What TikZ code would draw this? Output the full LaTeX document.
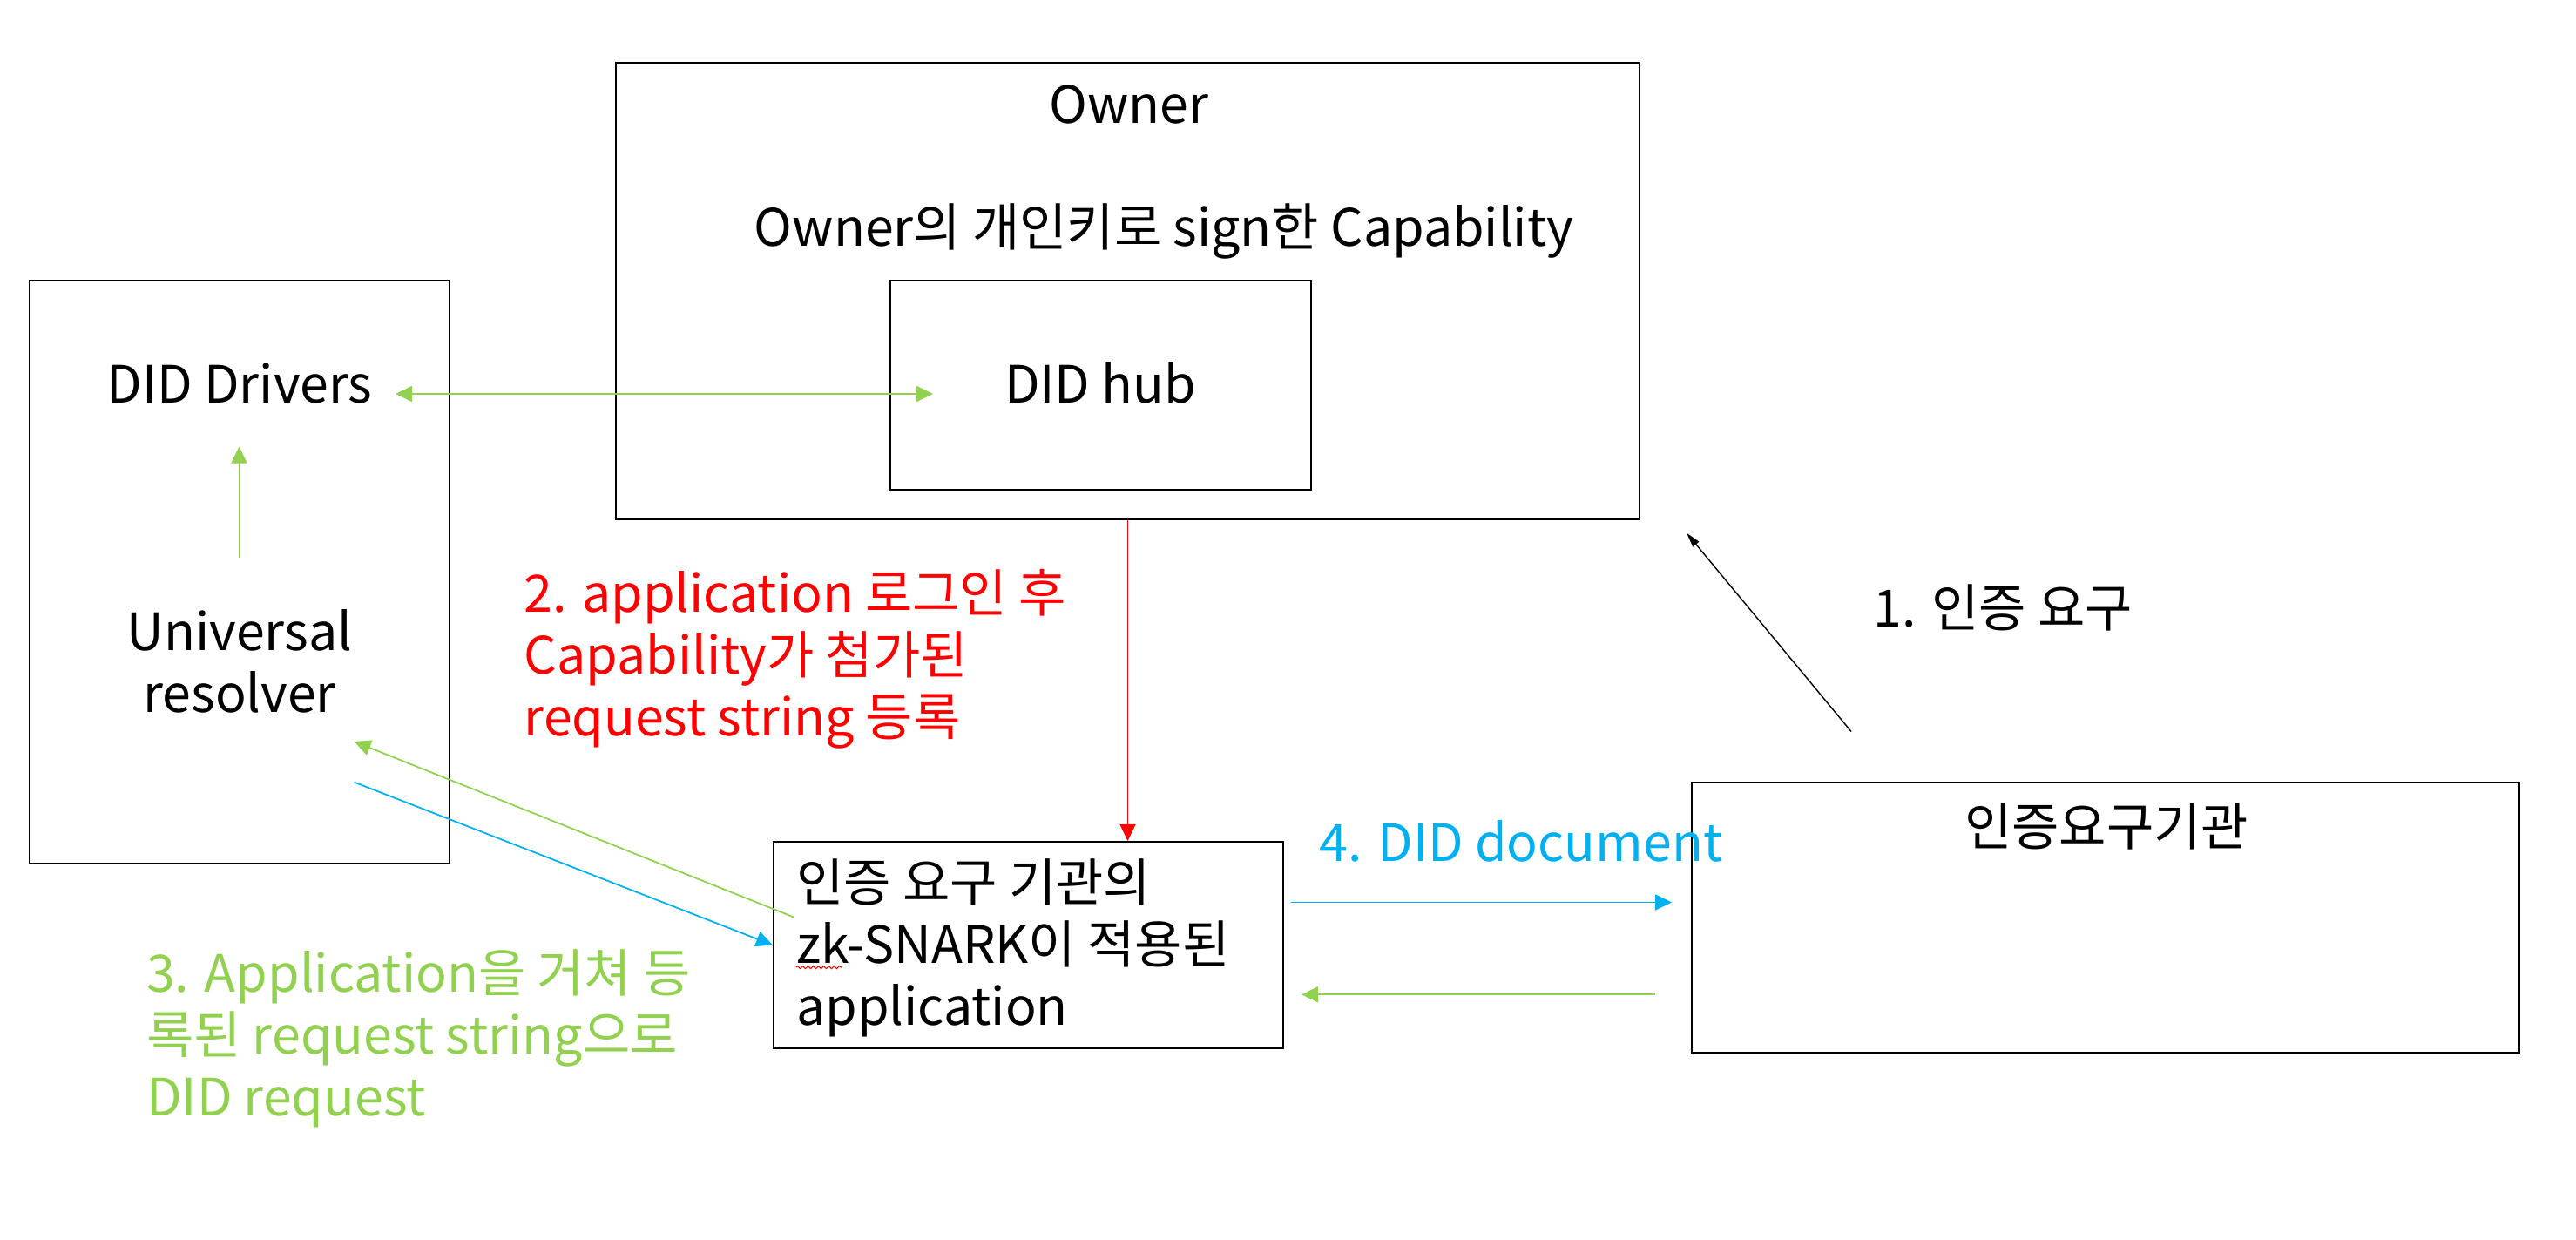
\documentclass[tikz,border=0pt]{standalone}
\usepackage{fontspec}
\setmainfont{Noto Sans CJK KR}
\usetikzlibrary{arrows.meta,decorations.pathmorphing,positioning}
\definecolor{pptgreen}{HTML}{92D050}
\definecolor{pptblue}{HTML}{00B0F0}
\definecolor{pptred}{HTML}{FF0000}
\tikzset{
	box/.style={draw,line width=0.6pt,inner sep=0pt},
	lbl/.style={inner sep=0pt,font=\fontsize{16.8pt}{20.2pt}\selectfont},
	tip/.style={-{Triangle[length=0.19cm,width=0.18cm]},line width=0.5pt},
	dtip/.style={{Triangle[length=0.19cm,width=0.18cm]}-{Triangle[length=0.19cm,width=0.18cm]},line width=0.5pt},
}

\begin{document}
\begin{tikzpicture}
	\useasboundingbox (0,0) rectangle (29.57,14.22);
	\node[box,minimum width=11.75cm,minimum height=5.24cm] (owner) at (12.945,10.88) {};
	\node[box,minimum width=4.83cm,minimum height=2.40cm] (hub) at (12.635,9.80) {};
	\node[box,minimum width=4.82cm,minimum height=6.69cm] (resbox) at (2.75,7.655) {};
	\node[box,minimum width=5.85cm,minimum height=2.37cm] (app) at (11.805,3.375) {};
	\node[box,minimum width=9.495cm,minimum height=3.10cm] (inst) at (24.1675,3.69) {};
	\node[lbl,anchor=base] (ownerlbl) at (12.96,12.80) {Owner};
	\node[lbl,anchor=base] (signlbl) at (13.36,11.39) {Owner의 개인키로 sign한 Capability};
	\node[lbl,anchor=base] (hublbl) at (12.63,9.60) {DID hub};
	\node[lbl,anchor=base] (drivers) at (2.75,9.60) {DID Drivers};
	\node[lbl,anchor=base,align=center] (resolver) at (2.75,6.05) {Universal\\resolver};
	\node[lbl,anchor=base west,align=left,text=pptred] (step2) at (6.01,5.775) {2. application 로그인 후\\Capability가 첨가된\\request string 등록};
	\node[lbl,anchor=base west,align=left,text=pptgreen] (step3) at (1.674,1.42) {3. Application을 거쳐 등\\록된 request string으로\\DID request};
	\node[lbl,anchor=base west,align=left] (applbl) at (9.136,2.46) {인증 요구 기관의\\zk-SNARK이 적용된\\application};
	\node[lbl,anchor=base west,text=pptblue] (step4) at (15.14,4.333) {4. DID document};
	\node[lbl,anchor=base] (instlbl) at (24.18,4.52) {인증요구기관};
	\node[lbl,anchor=base west] (step1) at (21.50,7.03) {1. 인증 요구};
	\coordinate (drvR) at (4.54,9.70);
	\coordinate (hubL) at (10.71,9.70);
	\coordinate (resB) at (2.745,7.82);
	\coordinate (resT) at (2.745,9.095);
	\coordinate (appL) at (9.116,3.693);
	\coordinate (resG) at (4.066,5.71);
	\coordinate (resU) at (4.066,5.244);
	\coordinate (appR) at (14.824,3.865);
	\coordinate (instL) at (19.19,3.865);
	\coordinate (instG) at (18.995,2.807);
	\coordinate (appG) at (14.94,2.807);
	\coordinate (reqS) at (21.25,5.825);
	\coordinate (reqT) at (19.36,8.104);
	\draw[dtip,pptgreen] (drvR)--(hubL);
	\draw[tip,pptgreen] (resB)--(resT);
	\draw[tip,pptred,line width=0.4pt] (owner.south)--(owner.south |- app.north);
	\draw[tip,pptgreen] (appL)--(resG);
	\draw[tip,pptblue] (resU)--(app.west);
	\draw[tip,pptblue] (appR)--(instL);
	\draw[tip,pptgreen] (instG)--(appG);
	\draw[-{Triangle[length=0.17cm,width=0.09cm]},line width=0.4pt] (reqS)--(reqT);
	\draw[pptred,line width=0.3pt,decorate,decoration={snake,amplitude=0.015cm,segment length=0.06cm}] (9.136,3.12)--(9.66,3.12);
\end{tikzpicture}
\end{document}
